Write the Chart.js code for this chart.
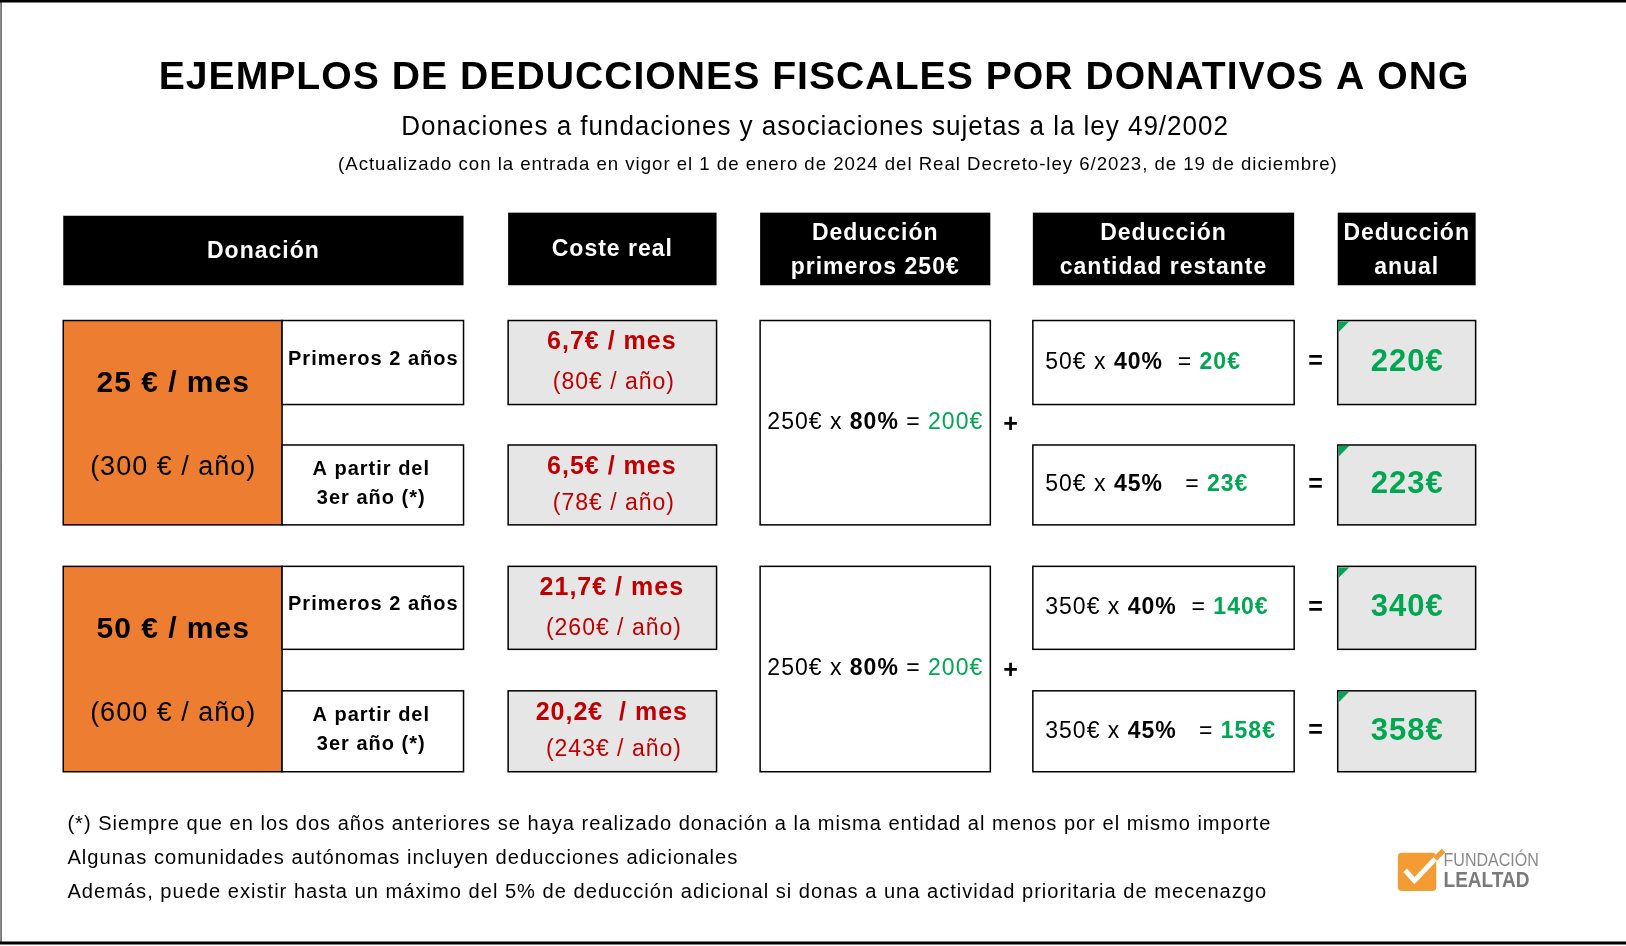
<!DOCTYPE html>
<html><head><meta charset="utf-8">
<script src="https://cdn.jsdelivr.net/npm/chart.js@4.4.0/dist/chart.umd.min.js"></script>
<style>html,body{margin:0;padding:0;background:#fff}#wrap{width:1626px;height:946px}</style>
</head><body><div id="wrap"><canvas id="c"></canvas></div>
<script>
// Data
const donations = ["25 € / mes", "50 € / mes"];
const donationsYear = ["(300 € / año)", "(600 € / año)"];
const periods = [["Primeros 2 años"], ["A partir del", "3er año (*)"]];
const costMonth = [["6,7€ / mes", "6,5€ / mes"], ["21,7€ / mes", "20,2€  / mes"]];
const costYear = [["(80€ / año)", "(78€ / año)"], ["(260€ / año)", "(243€ / año)"]];
const first250 = [250, 250];
const first250Pct = 80;
const first250Ded = [200, 200];
const restBase = [50, 350];
const restPct = [40, 45];
const restDed = [[20, 23], [140, 158]];
const annual = [[220, 223], [340, 358]];
const headers = [["Donación"], ["Coste real"], ["Deducción", "primeros 250€"], ["Deducción", "cantidad restante"], ["Deducción", "anual"]];
const notes = [
  "(*) Siempre que en los dos años anteriores se haya realizado donación a la misma entidad al menos por el mismo importe",
  "Algunas comunidades autónomas incluyen deducciones adicionales",
  "Además, puede existir hasta un máximo del 5% de deducción adicional si donas a una actividad prioritaria de mecenazgo"
];

// Layout (reference units)
const W = 1568, H = 912, FS = 1626 / 1568;
const cols = [[61, 447], [490, 691], [733, 955], [996, 1248], [1290, 1423]];
const headY = [[208, 275], [205, 275], [205, 275], [205, 275], [205, 275]];
const groupY = [[309, 390, 429, 506], [546, 626, 666, 744]];
const noteWidths = [1161, 647, 1157];
const ORANGE = "#ED7D31", RED = "#C00000", GREEN = "#00A651", GRAY = "#E7E6E6";
const FONT = "'Liberation Sans', Arial, sans-serif";

const tablePlugin = {
  id: "table",
  afterDraw(chart) {
    const ctx = chart.ctx, xs = chart.scales.x, ys = chart.scales.y;
    const X = v => xs.getPixelForValue(v), Y = v => ys.getPixelForValue(v);
    const font = (sz, b) => (b ? "bold " : "") + Math.round(sz * FS) + "px " + FONT;
    ctx.save();
    ctx.letterSpacing = "1px";
    function rect(x0, y0, x1, y1, fill, stroke) {
      if (fill) { ctx.fillStyle = fill; ctx.fillRect(X(x0), Y(y0), X(x1) - X(x0), Y(y1) - Y(y0)); }
      if (stroke) { ctx.strokeStyle = stroke; ctx.lineWidth = 1.5; ctx.strokeRect(X(x0), Y(y0), X(x1) - X(x0), Y(y1) - Y(y0)); }
    }
    function text(s, x, y, sz, b, col, align) {
      ctx.font = font(sz, b); ctx.fillStyle = col || "#000";
      ctx.textAlign = align || "center"; ctx.textBaseline = "middle";
      ctx.fillText(s, X(x), Y(y));
    }
    // text stretched to a given width (left edge x0)
    function fit(s, x0, w, y, sz, b, col) {
      ctx.font = font(sz, b); ctx.fillStyle = col || "#000";
      ctx.textAlign = "left"; ctx.textBaseline = "middle";
      const mw = ctx.measureText(s).width, tw = X(x0 + w) - X(x0);
      ctx.save(); ctx.translate(X(x0), Y(y)); ctx.scale(tw / mw, 1);
      ctx.fillText(s, 0, 0); ctx.restore();
    }
    function rich(segs, x0, y) {
      let x = X(x0);
      ctx.textAlign = "left"; ctx.textBaseline = "middle";
      segs.forEach(s => { ctx.font = font(s[1], s[2]); ctx.fillStyle = s[3] || "#000"; ctx.fillText(s[0], x, Y(y)); x += ctx.measureText(s[0]).width; });
    }
    // frame
    ctx.strokeStyle = "#000"; ctx.lineWidth = 3;
    ctx.beginPath(); ctx.moveTo(X(0), Y(1)); ctx.lineTo(X(W), Y(1)); ctx.stroke();
    ctx.beginPath(); ctx.moveTo(X(0), Y(909)); ctx.lineTo(X(W), Y(909)); ctx.stroke();
    ctx.lineWidth = 1; ctx.beginPath(); ctx.moveTo(X(1), Y(0)); ctx.lineTo(X(1), Y(910)); ctx.stroke();

    fit("EJEMPLOS DE DEDUCCIONES FISCALES POR DONATIVOS A ONG", 153, 1264, 76, 37, true);
    fit("Donaciones a fundaciones y asociaciones sujetas a la ley 49/2002", 387, 798, 123, 26, false);
    fit("(Actualizado con la entrada en vigor el 1 de enero de 2024 del Real Decreto-ley 6/2023, de 19 de diciembre)", 326, 964, 159, 18, false);

    headers.forEach((h, i) => {
      const [x0, x1] = cols[i], [y0, y1] = headY[i];
      rect(x0, y0, x1, y1, "#000");
      const cx = (x0 + x1) / 2, cy = (y0 + y1) / 2;
      if (h.length === 1) text(h[0], cx, cy + 1, 22, true, "#fff");
      else { text(h[0], cx, cy - 15, 22, true, "#fff"); text(h[1], cx, cy + 18, 22, true, "#fff"); }
    });

    groupY.forEach((g, k) => {
      const [a0, a1, b0, b1] = g, rows = [[a0, a1], [b0, b1]];
      rect(61, a0, 272, b1, ORANGE, "#000");
      text(donations[k], 167, a0 + 61, 29, true);
      text(donationsYear[k], 167, b0 + 22, 26, false);
      rows.forEach((r, j) => {
        const cy = (r[0] + r[1]) / 2;
        rect(272, r[0], 447, r[1], "#fff", "#000");
        if (periods[j].length === 1) text(periods[j][0], 360, cy - 3, 19, true);
        else { text(periods[j][0], 358, cy - 15, 19, true); text(periods[j][1], 358, cy + 13, 19, true); }
        rect(490, r[0], 691, r[1], GRAY, "#000");
        text(costMonth[k][j], 590, r[0] + 21, 24, true, RED);
        text(costYear[k][j], 592, r[0] + 60 - (j ? 3 : 0), 22, false, RED);
        rect(996, r[0], 1248, r[1], "#fff", "#000");
        rich([[restBase[k] + "€ x ", 22, false], [restPct[j] + "%", 22, true], [j ? "   = " : "  = ", 22, false], [restDed[k][j] + "€", 22, true, GREEN]], 1008, cy);
        text("=", 1269, cy, 24, true);
        rect(1290, r[0], 1423, r[1], GRAY, "#000");
        ctx.fillStyle = GREEN; ctx.beginPath();
        ctx.moveTo(X(1291), Y(r[0] + 1)); ctx.lineTo(X(1301), Y(r[0] + 1)); ctx.lineTo(X(1291), Y(r[0] + 11)); ctx.fill();
        text(annual[k][j] + "€", 1357, cy, 30, true, GREEN);
      });
      rect(733, a0, 955, b1, "#fff", "#000");
      const my = (a0 + b1) / 2;
      rich([[first250[k] + "€ x ", 22, false], [first250Pct + "%", 22, true], [" = ", 22, false], [first250Ded[k] + "€", 22, false, GREEN]], 740, my);
      text("+", 975, my + 2, 24, true);
    });

    notes.forEach((n, i) => fit(n, 65, noteWidths[i], 795 + i * 32.5, 19.5, false));

    // logo
    ctx.letterSpacing = "0px";
    ctx.fillStyle = "#F39C34";
    ctx.beginPath(); ctx.roundRect(X(1348), Y(822), X(1385) - X(1348), Y(859) - Y(822), 4); ctx.fill();
    ctx.strokeStyle = "#fff"; ctx.lineWidth = 5; ctx.beginPath();
    ctx.moveTo(X(1355), Y(839)); ctx.lineTo(X(1364), Y(849)); ctx.lineTo(X(1386), Y(826)); ctx.stroke();
    ctx.strokeStyle = "#F39C34"; ctx.beginPath();
    ctx.moveTo(X(1384), Y(828)); ctx.lineTo(X(1392), Y(820)); ctx.stroke();
    fit("FUNDACIÓN", 1392, 92, 830, 17, false, "#8a8a8a");
    fit("LEALTAD", 1392, 83, 849, 21, true, "#7a7a7a");
    ctx.restore();
  }
};

new Chart(document.getElementById("c"), {
  type: "scatter",
  data: { datasets: [{ data: [], pointRadius: 0 }] },
  options: {
    responsive: true, maintainAspectRatio: false, animation: false,
    layout: { padding: 0 },
    plugins: { legend: { display: false }, tooltip: { enabled: false } },
    scales: {
      x: { type: "linear", min: 0, max: W, display: false },
      y: { type: "linear", min: 0, max: H, reverse: true, display: false }
    }
  },
  plugins: [tablePlugin]
});
</script></body></html>
